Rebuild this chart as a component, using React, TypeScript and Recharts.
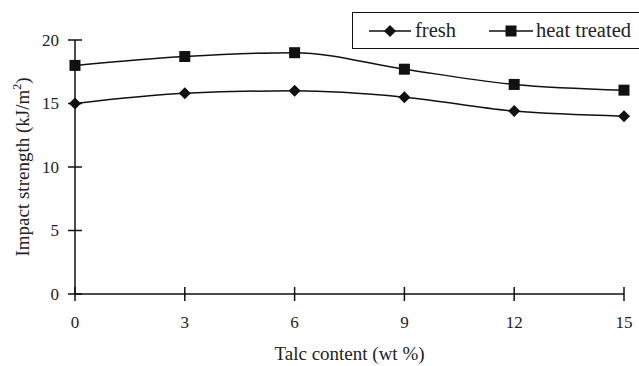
import { LineChart, Line, XAxis, YAxis, Label } from 'recharts'

const talc = [0, 3, 6, 9, 12, 15]
const fresh = [15, 15.8, 16, 15.5, 14.4, 14]
const heatTreated = [18, 18.7, 19, 17.7, 16.5, 16.05]
const xTicks = [0, 3, 6, 9, 12, 15]
const yTicks = [0, 5, 10, 15, 20]

const FONT = '"Liberation Serif", "Times New Roman", serif'

const data = talc.map((t, i) => ({ talc: t, fresh: fresh[i], heat: heatTreated[i] }))

function Diamond({ cx, cy, r = 6 }: { cx: number; cy: number; r?: number }) {
  return <path d={`M${cx},${cy - r}L${cx + r},${cy}L${cx},${cy + r}L${cx - r},${cy}Z`} fill="#111" />
}

function Square({ cx, cy, s = 11 }: { cx: number; cy: number; s?: number }) {
  return <rect x={cx - s / 2} y={cy - s / 2} width={s} height={s} fill="#111" />
}

function YTick({ x, y, payload }: any) {
  return (
    <g>
      <line x1={x - 7} x2={x + 7} y1={y} y2={y} stroke="#111" strokeWidth={1.5} />
      <text x={x - 16} y={y} dy="0.35em" textAnchor="end" fontSize={17} fontFamily={FONT} fill="#222">
        {payload.value}
      </text>
    </g>
  )
}

function XTick({ x, y, payload }: any) {
  return (
    <g>
      <line x1={x} x2={x} y1={y - 7} y2={y + 7} stroke="#111" strokeWidth={1.5} />
      <text x={x} y={y + 28} dy="0.35em" textAnchor="middle" fontSize={17} fontFamily={FONT} fill="#222">
        {payload.value}
      </text>
    </g>
  )
}

function YLabel() {
  return (
    <text
      x={22}
      y={167}
      transform="rotate(-90 22 167)"
      textAnchor="middle"
      dy="0.35em"
      fontSize={19}
      fontFamily={FONT}
      fill="#222"
    >
      Impact strength (kJ/m
      <tspan fontSize={12} dy={-8}>2</tspan>
      <tspan dy={8}>)</tspan>
    </text>
  )
}

function LegendBox() {
  return (
    <div
      style={{
        position: 'absolute',
        left: 352,
        top: 12,
        width: 300,
        height: 35,
        border: '1.5px solid #111',
        display: 'flex',
        alignItems: 'center',
        fontFamily: FONT,
        fontSize: 20.5,
        color: '#222',
        background: '#fff',
      }}
    >
      <svg width={42} height={20} style={{ marginLeft: 16 }}>
        <line x1={0} x2={42} y1={10} y2={10} stroke="#111" strokeWidth={1.5} />
        <Diamond cx={21} cy={10} />
      </svg>
      <span style={{ marginLeft: 4 }}>fresh</span>
      <svg width={44} height={20} style={{ marginLeft: 33 }}>
        <line x1={0} x2={44} y1={10} y2={10} stroke="#111" strokeWidth={1.5} />
        <Square cx={22} cy={10} />
      </svg>
      <span style={{ marginLeft: 3 }}>heat treated</span>
    </div>
  )
}

export default function App() {
  return (
    <div style={{ position: 'absolute', left: 0, top: 0, width: 639, height: 366, overflow: 'hidden', background: '#fff' }}>
      <LineChart width={639} height={366} data={data} margin={{ top: 40, right: 15, bottom: 0, left: 0 }}>
        <XAxis
          dataKey="talc"
          type="number"
          domain={[0, 15]}
          ticks={xTicks}
          height={72}
          axisLine={{ stroke: '#111', strokeWidth: 1.5 }}
          tickLine={false}
          tickSize={0}
          tickMargin={0}
          tick={<XTick />}
        >
          <Label
            value="Talc content (wt %)"
            position="insideBottom"
            offset={6}
            style={{ fontSize: 19, fontFamily: FONT, fill: '#222' }}
          />
        </XAxis>
        <YAxis
          type="number"
          domain={[0, 20]}
          ticks={yTicks}
          width={75}
          axisLine={{ stroke: '#111', strokeWidth: 1.5 }}
          tickLine={false}
          tickSize={0}
          tickMargin={0}
          tick={<YTick />}
          label={<YLabel />}
        />
        <Line
          dataKey="fresh"
          type="monotone"
          stroke="#111"
          strokeWidth={1.5}
          dot={(p: any) => <Diamond key={`f${p.index}`} cx={p.cx} cy={p.cy} />}
          activeDot={false}
          isAnimationActive={false}
        />
        <Line
          dataKey="heat"
          type="monotone"
          stroke="#111"
          strokeWidth={1.5}
          dot={(p: any) => <Square key={`h${p.index}`} cx={p.cx} cy={p.cy} />}
          activeDot={false}
          isAnimationActive={false}
        />
      </LineChart>
      <LegendBox />
    </div>
  )
}
